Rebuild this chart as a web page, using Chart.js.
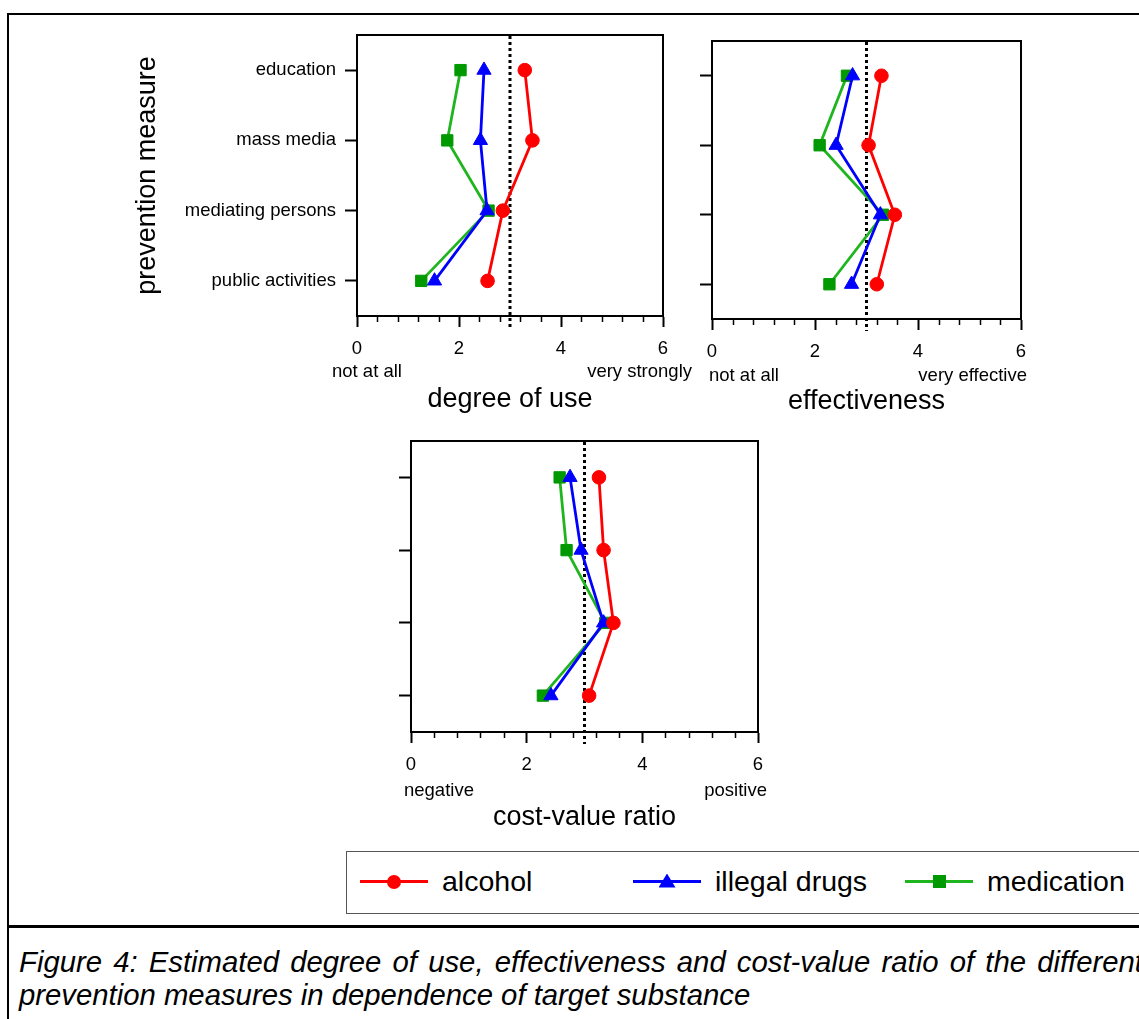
<!DOCTYPE html>
<html>
<head>
<meta charset="utf-8">
<script src="https://cdn.jsdelivr.net/npm/chart.js@4.4.1/dist/chart.umd.min.js"></script>
<style>
  html, body { margin: 0; padding: 0; background: #fff; overflow: hidden; }
  body { width: 1139px; height: 1019px; position: relative; font-family: "Liberation Sans", Arial, sans-serif; color: #000; }
  #frame { position: absolute; left: 7px; top: 13px; width: 1200px; height: 1100px; border: 2px solid #000; box-sizing: border-box; }
  #rule { position: absolute; left: 7px; top: 925px; width: 1200px; height: 3px; background: #000; }
  canvas { position: absolute; }
  #legend { position: absolute; left: 346px; top: 851px; width: 900px; height: 63px; border: 1px solid #555; box-sizing: border-box; background: #fff; }
  .lg-line { position: absolute; height: 3px; }
  .lg-mark { position: absolute; }
  .lg-text { position: absolute; font-size: 28.5px; line-height: 32px; white-space: nowrap; }
  #caption { position: absolute; left: 19px; top: 945px; font-style: italic; font-size: 29.3px; line-height: 33px; white-space: nowrap; }
  #caption .l1 { width: 1124px; text-align: justify; text-align-last: justify; }
</style>
</head>
<body>
<div id="frame"></div>
<canvas id="useChart" width="590" height="400" style="left:120px; top:25px;"></canvas>
<canvas id="effChart" width="459" height="400" style="left:680px; top:25px;"></canvas>
<canvas id="costChart" width="420" height="420" style="left:380px; top:425px;"></canvas>
<div id="legend"></div>
<div id="rule"></div>
<div id="caption">
  <div class="l1">Figure 4: Estimated degree of use, effectiveness and cost-value ratio of the different</div>
  <div>prevention measures in dependence of target substance</div>
</div>
<script>
// categories, top to bottom
const categories = ["education", "mass media", "mediating persons", "public activities"];
const seriesNames = ["alcohol", "illegal drugs", "medication"];

// degree of use
const useAlcohol = [3.29, 3.44, 2.86, 2.56];
const useDrugs = [2.49, 2.42, 2.55, 1.52];
const useMedication = [2.03, 1.77, 2.58, 1.26];

// effectiveness
const effAlcohol = [3.29, 3.04, 3.55, 3.20];
const effDrugs = [2.73, 2.41, 3.27, 2.71];
const effMedication = [2.62, 2.09, 3.32, 2.28];

// cost-value ratio
const costAlcohol = [3.25, 3.33, 3.50, 3.08];
const costDrugs = [2.75, 2.94, 3.33, 2.42];
const costMedication = [2.57, 2.69, 3.36, 2.28];

const xTickValues = [0, 2, 4, 6];
const neutralValue = 3;
const useEnds = ["not at all", "very strongly"];
const effEnds = ["not at all", "very effective"];
const costEnds = ["negative", "positive"];

const FONT = '"Liberation Sans", Arial, sans-serif';
const styles = [
  { line: "#ff0000", point: "#ff0000", shape: "circle", radius: 6.8 },
  { line: "#0000ff", point: "#0000ff", shape: "triangle", radius: 8.2 },
  { line: "#1fb51f", point: "#009900", shape: "rect", radius: 8 },
];

// dotted reference line, minor ticks, box and end labels
const panelDecor = {
  id: "panelDecor",
  beforeDatasetsDraw(chart, args, opts) {
    const { ctx, chartArea: a, scales: { x } } = chart;
    const px = x.getPixelForValue(neutralValue);
    ctx.save();
    ctx.strokeStyle = "#000";
    ctx.lineWidth = 3;
    ctx.setLineDash([3, 3]);
    ctx.beginPath();
    ctx.moveTo(px, a.top + 1);
    ctx.lineTo(px, a.bottom + 12);
    ctx.stroke();
    ctx.restore();
  },
  afterDraw(chart, args, opts) {
    const { ctx, chartArea: a, scales: { x } } = chart;
    ctx.save();
    ctx.strokeStyle = "#000";
    ctx.lineWidth = 2;
    ctx.strokeRect(a.left, a.top, a.right - a.left, a.bottom - a.top);
    ctx.lineWidth = 1.5;
    for (let k = 0; k <= 15; k++) {
      if (k % 5 === 0) continue;
      const px = Math.round(x.getPixelForValue(k * 0.4)) + 0.5;
      ctx.beginPath();
      ctx.moveTo(px, a.bottom);
      ctx.lineTo(px, a.bottom + 6);
      ctx.stroke();
    }
    ctx.fillStyle = "#000";
    ctx.font = "18.5px " + FONT;
    ctx.textBaseline = "middle";
    ctx.textAlign = "left";
    ctx.fillText(opts.ends[0], x.getPixelForValue(0) + opts.leftShift, a.bottom + opts.endY);
    ctx.textAlign = "right";
    ctx.fillText(opts.ends[1], x.getPixelForValue(6) + opts.rightShift, a.bottom + opts.endY);
    ctx.restore();
  },
};

function makePanel(id, values, cfg) {
  const datasets = values.map((vals, s) => ({
    label: seriesNames[s],
    data: vals.map((v, i) => ({ x: v, y: i + 1 })),
    showLine: true,
    borderColor: styles[s].line,
    borderWidth: 2.8,
    backgroundColor: styles[s].point,
    pointBackgroundColor: styles[s].point,
    pointBorderColor: styles[s].point,
    pointBorderWidth: 1,
    pointStyle: styles[s].shape,
    pointRadius: styles[s].radius,
  }));

  new Chart(document.getElementById(id), {
    type: "scatter",
    data: { datasets },
    plugins: [panelDecor],
    options: {
      responsive: false,
      animation: false,
      events: [],
      layout: { padding: cfg.padding },
      plugins: {
        legend: { display: false },
        tooltip: { enabled: false },
        panelDecor: cfg.decor,
      },
      scales: {
        x: {
          type: "linear",
          position: "bottom",
          min: 0,
          max: 6,
          afterBuildTicks: (scale) => { scale.ticks = xTickValues.map((v) => ({ value: v })); },
          afterFit: (scale) => { scale.height = cfg.xHeight; scale.paddingLeft = 0; scale.paddingRight = 0; },
          ticks: { color: "#000", padding: 11, font: { family: FONT, size: 18.5, lineHeight: 1.2 } },
          grid: { drawOnChartArea: false, drawTicks: true, tickLength: 11, tickWidth: 2, tickColor: "#000" },
          border: { display: true, color: "#000", width: 2 },
          title: {
            display: true,
            text: cfg.title,
            color: "#000",
            font: { family: FONT, size: 27, lineHeight: 1 },
            padding: { top: 0, bottom: cfg.titlePad },
          },
        },
        y: {
          type: "linear",
          position: "left",
          min: 0.5,
          max: 4.5,
          reverse: true,
          afterBuildTicks: (scale) => { scale.ticks = categories.map((c, i) => ({ value: i + 1 })); },
          afterFit: (scale) => { scale.width = cfg.yWidth; scale.paddingTop = 0; scale.paddingBottom = 0; },
          ticks: {
            display: cfg.showCategories,
            color: "#000",
            padding: 9,
            font: { family: FONT, size: 18.5 },
            callback: (v) => categories[v - 1],
          },
          grid: { drawOnChartArea: false, drawTicks: true, tickLength: 12, tickWidth: 2, tickColor: "#000" },
          border: { display: true, color: "#000", width: 2 },
          title: {
            display: cfg.showCategories,
            text: "prevention measure",
            color: "#000",
            font: { family: FONT, size: 27, lineHeight: 1 },
            padding: { top: 14.5, bottom: 0 },
          },
        },
      },
    },
  });
}

makePanel("useChart", [useAlcohol, useDrugs, useMedication], {
  padding: { left: 0, top: 10, right: 47, bottom: 0 },
  yWidth: 237, xHeight: 109, titlePad: 11.5, title: "degree of use", showCategories: true,
  decor: { ends: useEnds, leftShift: -25, rightShift: 29, endY: 56 },
});

makePanel("effChart", [effAlcohol, effDrugs, effMedication], {
  padding: { left: 0, top: 16, right: 118, bottom: 0 },
  yWidth: 32, xHeight: 106, titlePad: 9.5, title: "effectiveness", showCategories: false,
  decor: { ends: effEnds, leftShift: -3, rightShift: 6, endY: 57 },
});

makePanel("costChart", [costAlcohol, costDrugs, costMedication], {
  padding: { left: 0, top: 16, right: 42, bottom: 0 },
  yWidth: 31, xHeight: 113, titlePad: 14, title: "cost-value ratio", showCategories: false,
  decor: { ends: costEnds, leftShift: -7, rightShift: 9, endY: 59 },
});

// legend built from the series list
const legend = document.getElementById("legend");
const legendX = [13, 286, 558];
seriesNames.forEach((name, s) => {
  const st = styles[s];
  const x0 = legendX[s];
  const line = document.createElement("div");
  line.className = "lg-line";
  line.style.cssText = `left:${x0}px; width:68px; top:28px; background:${st.line};`;
  legend.appendChild(line);

  const mark = document.createElement("div");
  mark.className = "lg-mark";
  const cx = x0 + 34, cy = 29.5;
  if (st.shape === "circle") {
    mark.style.cssText = `left:${cx - 7}px; top:${cy - 7}px; width:14px; height:14px; border-radius:50%; background:${st.point};`;
  } else if (st.shape === "triangle") {
    mark.style.cssText = `left:${cx - 8.5}px; top:${cy - 8}px; width:17px; height:14px; clip-path:polygon(50% 0, 100% 100%, 0 100%); background:${st.point};`;
  } else {
    mark.style.cssText = `left:${cx - 6.5}px; top:${cy - 6.5}px; width:13px; height:13px; background:${st.point};`;
  }
  legend.appendChild(mark);

  const text = document.createElement("div");
  text.className = "lg-text";
  text.style.cssText = `left:${x0 + 82}px; top:13px;`;
  text.textContent = name;
  legend.appendChild(text);
});
</script>
</body>
</html>
